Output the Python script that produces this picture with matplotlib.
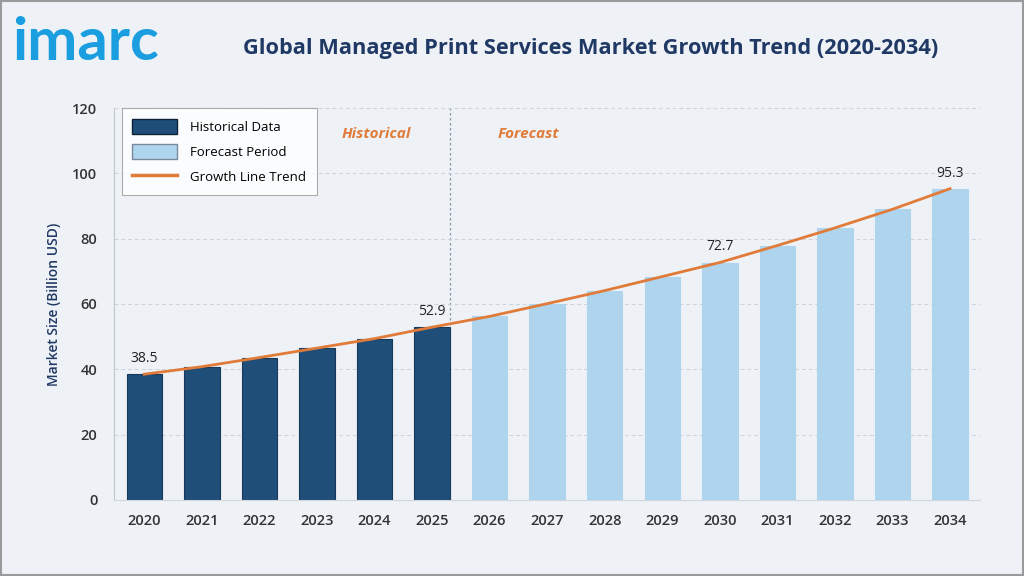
import matplotlib
matplotlib.use("Agg")
import matplotlib.pyplot as plt
from matplotlib.patches import Patch, Rectangle
from matplotlib.lines import Line2D

years = [2020, 2021, 2022, 2023, 2024, 2025, 2026, 2027, 2028, 2029, 2030, 2031, 2032, 2033, 2034]
values = [38.5, 40.8, 43.6, 46.5, 49.4, 52.9, 56.2, 60.1, 64.1, 68.4, 72.7, 77.9, 83.3, 89.0, 95.3]
n_hist = 6
labelled = {2020: "38.5", 2025: "52.9", 2030: "72.7", 2034: "95.3"}

NAVY = "#1f4e79"
LIGHT = "#aed4ee"
ORANGE = "#e07b39"
TEXT = "#1f3864"
BG = "#eef2f7"

plt.rcParams['font.family'] = ['Open Sans', 'DejaVu Sans']

fig = plt.figure(figsize=(10.24, 5.76), dpi=100, facecolor=BG)
fig.patches.append(Rectangle((0.001, 0.001), 0.998, 0.997, transform=fig.transFigure,
                             fill=False, edgecolor="#9a9a9a", linewidth=1.5))
ax = fig.add_axes([0.1113, 0.132, 0.8457, 0.6805])
ax.set_facecolor(BG)

x = list(range(len(years)))
colors = [NAVY] * n_hist + [LIGHT] * (len(years) - n_hist)
edges = ["#163a5c"] * n_hist + [LIGHT] * (len(years) - n_hist)
ax.bar(x, values, width=0.615, color=colors, edgecolor=edges, linewidth=0.8, zorder=2)
ax.plot(x, values, color=ORANGE, linewidth=2, zorder=3)

for i, y in enumerate(years):
    if y in labelled:
        ax.text(i, values[i] + 2.5, labelled[y], ha="center", va="bottom",
                fontsize=10, color="#222222", zorder=4)

# divider sits just at the right edge of the last historical bar
ax.axvline(n_hist - 1 + 0.32, color="#8a96a8", linestyle=(0, (2, 2)), linewidth=0.9, zorder=1)
ax.text(4.03, 112, "Historical", color=ORANGE, fontsize=11, fontweight="bold",
        style="italic", ha="center", va="center")
ax.text(6.68, 112, "Forecast", color=ORANGE, fontsize=11, fontweight="bold",
        style="italic", ha="center", va="center")

ax.set_xlim(-0.527, 14.52)
ax.set_ylim(0, 120)
ax.set_yticks(range(0, 121, 20))
ax.set_xticks(x)
ax.set_xticklabels([str(y) for y in years])
ax.tick_params(axis="both", length=0, labelsize=10.5, labelcolor="#333333")
ax.tick_params(axis="x", pad=10)
ax.tick_params(axis="y", pad=12)
for lab in ax.get_xticklabels() + ax.get_yticklabels():
    lab.set_fontweight("semibold")
ax.grid(axis="y", color="#ccd2db", linestyle=(0, (4, 3)), linewidth=0.7, zorder=0)
for s in ["top", "right"]:
    ax.spines[s].set_visible(False)
ax.spines["left"].set_color("#c0c6d0")
ax.spines["bottom"].set_color("#d0d6de")
ax.set_ylabel("Market Size (Billion USD)", fontsize=10, color=TEXT, fontweight="semibold", labelpad=8)

handles = [Patch(facecolor=NAVY, edgecolor="#0d2238", label="Historical Data"),
           Patch(facecolor=LIGHT, edgecolor="#7a8a9a", label="Forecast Period"),
           Line2D([0], [0], color=ORANGE, linewidth=2.5, label="Growth Line Trend")]
leg = ax.legend(handles=handles, loc="upper left", bbox_to_anchor=(0.009, 1.0), fontsize=9.5,
                frameon=True, fancybox=False, edgecolor="#999999", handlelength=3.4,
                handleheight=1.4, labelspacing=0.75, borderpad=0.8, handletextpad=1.0,
                borderaxespad=0.0)
leg.get_frame().set_facecolor("white")
leg.get_frame().set_linewidth(0.8)

fig.text(0.577, 0.916, "Global Managed Print Services Market Growth Trend (2020-2034)",
         ha="center", va="center", fontsize=15.7, fontweight="bold", color=TEXT)
fig.text(0.012, 0.925, "imarc", ha="left", va="center", fontsize=43, fontweight="bold",
         color="#1a9ee0", family=["Lato", "DejaVu Sans"])

fig.savefig("out.png", dpi=100, facecolor=BG)
